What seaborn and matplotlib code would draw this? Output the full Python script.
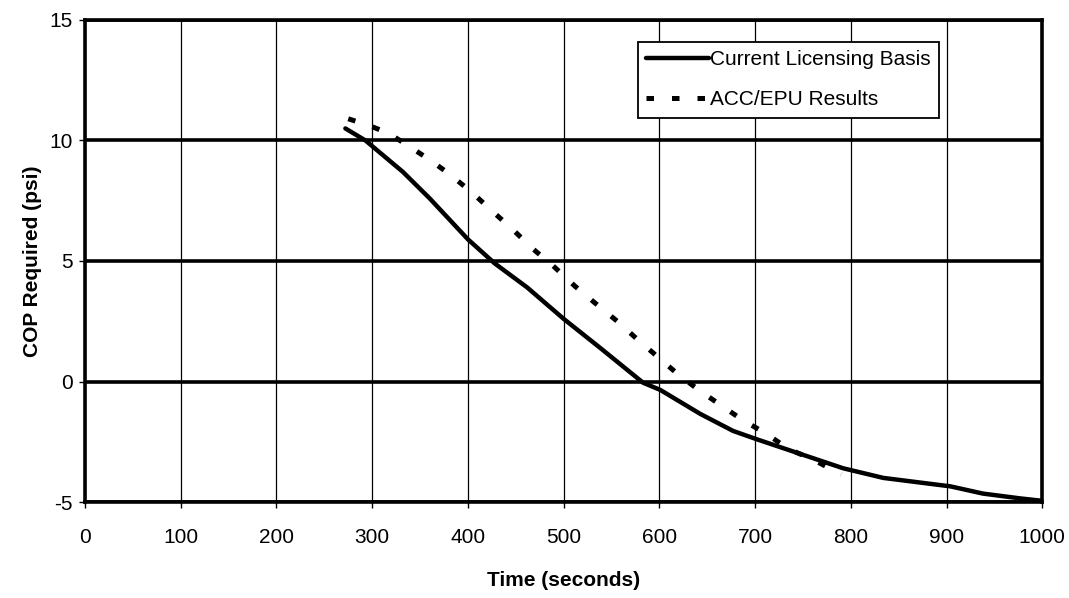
import pandas as pd
import matplotlib
matplotlib.use("Agg")
import matplotlib.pyplot as plt
import seaborn as sns

# Current licensing basis curve
clb_time = [272, 293, 332, 360, 400, 428, 462, 500, 538, 583, 601, 643, 677,
            702, 747, 792, 834, 904, 938, 977, 1000]
clb_cop = [10.5, 10.0, 8.7, 7.6, 5.9, 4.9, 3.9, 2.6, 1.4, -0.05, -0.35, -1.35,
           -2.05, -2.4, -3.0, -3.6, -4.0, -4.35, -4.65, -4.85, -4.95]

# ACC/EPU results curve
epu_time = [275, 295, 317, 337, 360, 381, 404, 426, 447, 468, 489, 512, 533,
            556, 577, 596, 618, 641, 663, 687, 711, 735, 761, 790]
epu_cop = [10.9, 10.65, 10.3, 9.8, 9.2, 8.6, 7.85, 7.05, 6.3, 5.5, 4.8, 3.95,
           3.25, 2.5, 1.75, 1.1, 0.35, -0.35, -0.95, -1.6, -2.15, -2.8, -3.25, -3.85]

x_ticks = list(range(0, 1001, 100))
y_ticks = [-5, 0, 5, 10, 15]

clb = pd.DataFrame({'time': clb_time, 'cop': clb_cop})
epu = pd.DataFrame({'time': epu_time, 'cop': epu_cop})

sns.set_style("white")
plt.rcParams['font.family'] = ['Liberation Sans', 'DejaVu Sans']
plt.rcParams['axes.unicode_minus'] = False
plt.rcParams['text.color'] = 'black'
plt.rcParams['axes.labelcolor'] = 'black'
plt.rcParams['xtick.color'] = 'black'
plt.rcParams['ytick.color'] = 'black'

fig = plt.figure(figsize=(10.69, 5.98), dpi=100)
ax = fig.add_axes([0.0795, 0.1605, 0.8955, 0.8061])

sns.lineplot(data=clb, x='time', y='cop', ax=ax, color='black', linewidth=3.2,
             label='Current Licensing Basis', sort=False)
sns.lineplot(data=epu, x='time', y='cop', ax=ax, color='black', linewidth=3.6,
             linestyle=(0, (1.5, 3.6)), label='ACC/EPU Results', sort=False)

ax.set_xlim(0, 1000)
ax.set_ylim(-5, 15)
ax.set_xticks(x_ticks)
ax.set_yticks(y_ticks)

# thick horizontal gridlines, thin vertical ones
ax.yaxis.grid(True, color='black', linewidth=2.6)
ax.xaxis.grid(True, color='black', linewidth=0.9)
ax.set_axisbelow(True)

for s in ax.spines.values():
    s.set_color('black')
    s.set_linewidth(2.6)

ax.tick_params(axis='both', direction='out', length=4, width=1, color='black',
               labelsize=15, bottom=True, left=True)
ax.tick_params(axis='x', pad=15)
ax.tick_params(axis='y', pad=5)

ax.set_xlabel('Time (seconds)', fontsize=15, fontweight='bold', labelpad=17)
ax.set_ylabel('COP Required (psi)', fontsize=15, fontweight='bold', labelpad=5)

leg = ax.legend(loc='upper right', bbox_to_anchor=(0.892, 0.954), borderaxespad=0,
                fontsize=15, frameon=True, fancybox=False, framealpha=1,
                edgecolor='black', handlelength=3.0, handletextpad=0.05,
                labelspacing=1.0, borderpad=0.4)
leg.get_frame().set_linewidth(1.3)

fig.savefig('out.png', dpi=100)
